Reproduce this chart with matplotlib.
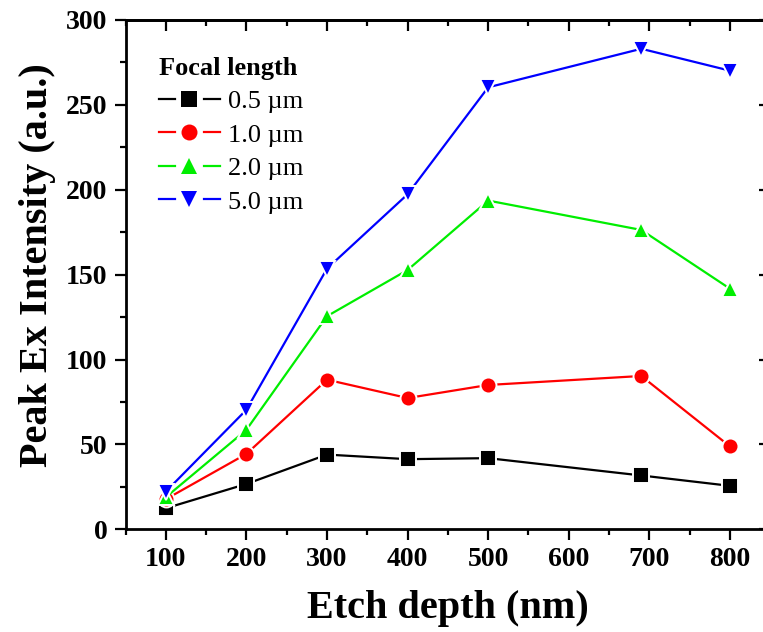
import matplotlib
matplotlib.use("Agg")
import matplotlib.pyplot as plt
from matplotlib.ticker import MultipleLocator
from matplotlib.legend_handler import HandlerBase
from matplotlib.lines import Line2D

# Etch depth (nm) for each measurement
depth = [100, 200, 300, 400, 500, 690, 800]

# Peak Ex intensity for each focal length
focal_labels = ["0.5 \u00b5m", "1.0 \u00b5m", "2.0 \u00b5m", "5.0 \u00b5m"]
f05 = [12.4, 26.7, 44.0, 41.3, 41.9, 31.7, 25.6]
f10 = [17.7, 44.4, 88.1, 77.3, 85.0, 90.3, 48.8]
f20 = [18.9, 58.6, 125.5, 152.7, 193.6, 176.3, 141.7]
f50 = [22.2, 70.4, 153.5, 197.3, 260.3, 283.0, 270.1]

colors = ["#000000", "#ff0000", "#00ee00", "#0000ff"]
markers = ["s", "o", "^", "v"]

plt.rcParams["font.family"] = ["Liberation Serif", "DejaVu Serif"]


class GapLineHandler(HandlerBase):
    """Legend key: line segment broken around a centred marker."""

    def create_artists(self, legend, orig_handle, xdescent, ydescent,
                       width, height, fontsize, trans):
        x0 = -xdescent
        x1 = -xdescent + width
        xc = (x0 + x1) / 2
        gap = 0.24 * width
        y = (height - ydescent) / 2
        color = orig_handle.get_color()
        lw = orig_handle.get_linewidth()
        left = Line2D([x0, xc - gap], [y, y], color=color, lw=lw)
        right = Line2D([xc + gap, x1], [y, y], color=color, lw=lw)
        mark = Line2D([xc], [y], ls="none", marker=orig_handle.get_marker(),
                      ms=orig_handle.get_markersize(), color=color,
                      markeredgecolor=color, markeredgewidth=0)
        arts = [left, right, mark]
        for a in arts:
            a.set_transform(trans)
        return arts


fig = plt.figure(figsize=(7.63, 6.32), dpi=100)
ax = fig.add_axes([0.1645, 0.1625, 0.845, 0.806])

handles = []
for ys, c, m, lab in zip([f05, f10, f20, f50], colors, markers, focal_labels):
    h, = ax.plot(depth, ys, color=c, lw=1.6, marker=m, ms=11.5,
                 markerfacecolor=c, markeredgecolor="white",
                 markeredgewidth=1.4, label=lab)
    handles.append(h)

ax.set_xlim(50, 850)
ax.set_ylim(0, 300)
ax.set_xticks(range(100, 900, 100))
ax.xaxis.set_minor_locator(MultipleLocator(50))
ax.yaxis.set_major_locator(MultipleLocator(50))
ax.yaxis.set_minor_locator(MultipleLocator(25))

for s in ax.spines.values():
    s.set_linewidth(2)

ax.tick_params(which="both", direction="out", width=1.6,
               bottom=True, left=True, top=False, right=False)
ax.tick_params(which="major", length=8)
ax.tick_params(which="minor", length=4.5)
ax.tick_params(axis="both", labelsize=20, pad=5)
for t in ax.get_xticklabels() + ax.get_yticklabels():
    t.set_fontweight("bold")

# inward ticks on the top and right spines
sec_x = ax.secondary_xaxis("top")
sec_x.xaxis.set_major_locator(MultipleLocator(100))
sec_x.xaxis.set_minor_locator(MultipleLocator(50))
sec_x.tick_params(which="both", direction="in", width=1.6, labeltop=False)
sec_x.tick_params(which="major", length=8)
sec_x.tick_params(which="minor", length=4.5)
sec_x.spines["top"].set_linewidth(2)
sec_y = ax.secondary_yaxis("right")
sec_y.yaxis.set_major_locator(MultipleLocator(50))
sec_y.yaxis.set_minor_locator(MultipleLocator(25))
sec_y.tick_params(which="both", direction="in", width=1.6, labelright=False)
sec_y.tick_params(which="major", length=8)
sec_y.tick_params(which="minor", length=4.5)

ax.set_xlabel("Etch depth (nm)", fontsize=29, fontweight="bold", labelpad=13)
ax.set_ylabel("Peak Ex Intensity (a.u.)", fontsize=29, fontweight="bold",
              labelpad=7)
ax.yaxis.label.set_y(0.519)

leg = ax.legend(handles=handles, labels=focal_labels,
                handler_map={Line2D: GapLineHandler()},
                title="Focal length", loc="upper left",
                bbox_to_anchor=(0.052, 0.928), frameon=False,
                fontsize=19, title_fontproperties={"weight": "bold", "size": 19},
                handlelength=2.3, handletextpad=0.3, labelspacing=0.38,
                borderaxespad=0, borderpad=0, alignment="left")

fig.savefig("out.png", dpi=100)
